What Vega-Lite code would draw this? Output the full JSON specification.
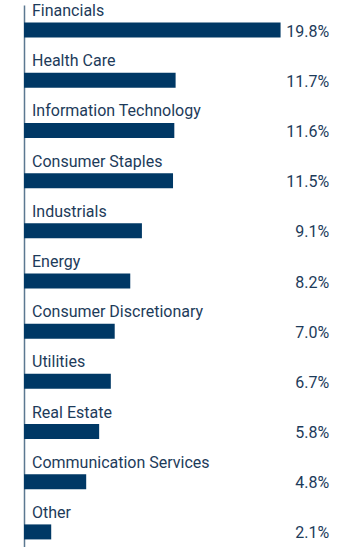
{
  "$schema": "https://vega.github.io/schema/vega-lite/v6.json",
  "width": 311,
  "height": 552,
  "padding": {"left": 24, "top": 5, "right": 0, "bottom": 0},
  "autosize": "none",
  "background": "white",
  "config": {"view": {"stroke": null}, "font": "Roboto"},
  "data": {"values": [
    {"sector": "Financials", "value": 19.8, "label": "19.8%"},
    {"sector": "Health Care", "value": 11.7, "label": "11.7%"},
    {"sector": "Information Technology", "value": 11.6, "label": "11.6%"},
    {"sector": "Consumer Staples", "value": 11.5, "label": "11.5%"},
    {"sector": "Industrials", "value": 9.1, "label": "9.1%"},
    {"sector": "Energy", "value": 8.2, "label": "8.2%"},
    {"sector": "Consumer Discretionary", "value": 7.0, "label": "7.0%"},
    {"sector": "Utilities", "value": 6.7, "label": "6.7%"},
    {"sector": "Real Estate", "value": 5.8, "label": "5.8%"},
    {"sector": "Communication Services", "value": 4.8, "label": "4.8%"},
    {"sector": "Other", "value": 2.1, "label": "2.1%"}
  ]},
  "encoding": {
    "y": {"field": "sector", "type": "nominal", "sort": null,
      "scale": {"paddingInner": 0, "paddingOuter": 0},
      "axis": {"title": null, "labels": false, "ticks": false, "domainColor": "#5b7891", "domainWidth": 1.5}}
  },
  "layer": [
    {"mark": {"type": "bar", "size": 15, "color": "#003865"},
      "encoding": {"x": {"field": "value", "type": "quantitative", "scale": {"domain": [0, 23.7]}, "axis": null}}},
    {"mark": {"type": "text", "align": "left", "baseline": "alphabetic", "dx": 8, "dy": -14, "fontSize": 16, "color": "#1d3b5a"},
      "encoding": {"x": {"datum": 0}, "text": {"field": "sector"}}},
    {"mark": {"type": "text", "align": "right", "baseline": "alphabetic", "dx": -2, "dy": 6.5, "fontSize": 16, "color": "#1d3b5a"},
      "encoding": {"x": {"datum": 23.7}, "text": {"field": "label"}}}
  ]
}
